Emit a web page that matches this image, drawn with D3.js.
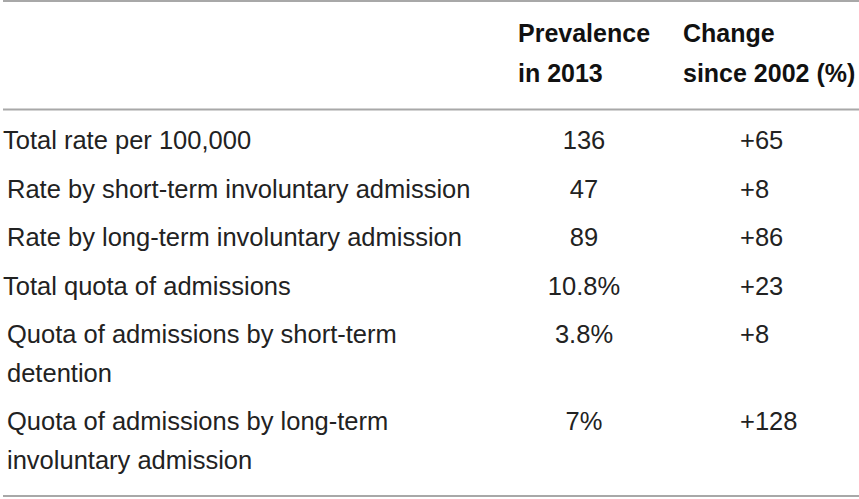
<!DOCTYPE html>
<html>
<head>
<meta charset="utf-8">
<script src="https://cdn.jsdelivr.net/npm/d3@7/dist/d3.min.js"></script>
<style>
  html, body { margin: 0; padding: 0; background: #fff; }
  svg { display: block; }
</style>
</head>
<body>
<svg id="chart" width="859" height="499"></svg>
<script>
// ---- data ----
const headerPrevalence = ["Prevalence", "in 2013"];
const headerChange = ["Change", "since 2002 (%)"];
const rowLabels = [
  ["Total rate per 100,000"],
  ["Rate by short-term involuntary admission"],
  ["Rate by long-term involuntary admission"],
  ["Total quota of admissions"],
  ["Quota of admissions by short-term", "detention"],
  ["Quota of admissions by long-term", "involuntary admission"]
];
const rowLevels = [0, 1, 1, 0, 1, 1];
const prevalence2013 = ["136", "47", "89", "10.8%", "3.8%", "7%"];
const changeSince2002 = ["+65", "+8", "+86", "+23", "+8", "+128"];

// ---- layout ----
const W = 859, H = 499;
const svg = d3.select("#chart");
const fontFamily = "'Liberation Sans', Arial, Helvetica, sans-serif";
const fs = 25.5;
const rowPitch = 48.5, linePitch = 38.5;

// compute row baselines cumulatively
const baselines = [];
let y0 = 149;
rowLabels.forEach((lines, i) => {
  baselines.push(y0);
  y0 += rowPitch + linePitch * (lines.length - 1);
});

const x = d3.scaleOrdinal().domain(["label", "prev", "change"]).range([3, 584, 740]);
const indent = d3.scaleLinear().domain([0, 1]).range([0, 4]);

// rules
const rules = [1, 109.5, 496];
svg.selectAll("line.rule").data(rules).enter().append("line")
  .attr("class", "rule")
  .attr("x1", 3).attr("x2", W)
  .attr("y1", d => d).attr("y2", d => d)
  .attr("stroke", "#a8a8a8").attr("stroke-width", 2);

// header
const headerBase = [42, 82];
const hdr = svg.append("g").attr("font-family", fontFamily).attr("font-size", 25)
  .attr("font-weight", "bold").attr("fill", "#111");
hdr.selectAll("text.hp").data(headerPrevalence).enter().append("text")
  .attr("x", 518).attr("y", (d, i) => headerBase[i]).text(d => d);
hdr.selectAll("text.hc").data(headerChange).enter().append("text")
  .attr("x", 683).attr("y", (d, i) => headerBase[i]).text(d => d);

// body
const body = svg.append("g").attr("font-family", fontFamily).attr("font-size", fs)
  .attr("fill", "#222");

const rows = body.selectAll("g.row").data(rowLabels.map((lines, i) => ({
  lines, level: rowLevels[i], prev: prevalence2013[i], change: changeSince2002[i], y: baselines[i]
}))).enter().append("g").attr("class", "row");

rows.each(function(d) {
  const g = d3.select(this);
  g.selectAll("text.lbl").data(d.lines).enter().append("text")
    .attr("class", "lbl")
    .attr("x", x("label") + indent(d.level))
    .attr("y", (t, j) => d.y + j * linePitch)
    .text(t => t);
  g.append("text").attr("x", x("prev")).attr("y", d.y)
    .attr("text-anchor", "middle").text(d.prev);
  g.append("text").attr("x", x("change")).attr("y", d.y)
    .text(d.change);
});
</script>
</body>
</html>
